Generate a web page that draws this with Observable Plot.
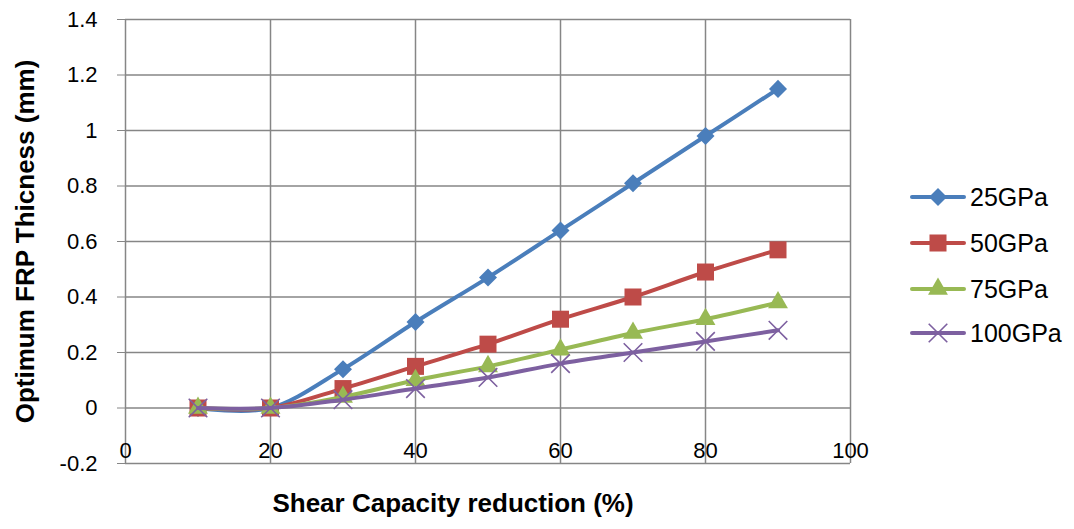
<!DOCTYPE html>
<html><head><meta charset="utf-8">
<script src="https://cdn.jsdelivr.net/npm/d3@7"></script>
<script src="https://cdn.jsdelivr.net/npm/@observablehq/plot@0.6"></script>
<style>
body{margin:0;background:#fff;font-family:"Liberation Sans",Arial,sans-serif;}
#wrap{position:relative;width:1074px;height:529px;}
#legend{position:absolute;left:910px;top:0;}
.item{position:absolute;left:0;height:30px;display:flex;align-items:center;white-space:nowrap;font-size:25px;color:#000;}
.item svg{margin-right:4px;}
</style></head><body><div id="wrap"><div id="chart"></div><div id="legend"></div></div>
<script>
const reduction = [10, 20, 30, 40, 50, 60, 70, 80, 90];
const series = ["25GPa", "50GPa", "75GPa", "100GPa"];
const t25 = [0, 0, 0.14, 0.31, 0.47, 0.64, 0.81, 0.98, 1.15];
const t50 = [0, 0, 0.07, 0.15, 0.23, 0.32, 0.40, 0.49, 0.57];
const t75 = [0, 0, 0.04, 0.10, 0.15, 0.21, 0.27, 0.32, 0.38];
const t100 = [0, 0, 0.03, 0.07, 0.11, 0.16, 0.20, 0.24, 0.28];
const xTicks = [0, 20, 40, 60, 80, 100];
const yTicks = [-0.2, 0, 0.2, 0.4, 0.6, 0.8, 1, 1.2, 1.4];
const colors = ["#4A7EBB", "#BE4B48", "#98B954", "#7D60A0"];

const values = [t25, t50, t75, t100];
const markerStyles = [
  {symbol: "square", rotate: 45, r: 7.2, filled: true},
  {symbol: "square", r: 9.6, filled: true},
  {symbol: "triangle", r: 7.4, filled: true},
  {symbol: "times", r: 8.5, filled: false}
];

const grid = {stroke: "#868686", strokeOpacity: 1, strokeWidth: 1.5};
const marks = [
  Plot.gridX(xTicks, grid),
  Plot.gridY(yTicks, grid),
  Plot.axisY(yTicks, {tickSize: 8, tickPadding: 20, stroke: "#868686", fill: "#000", fontSize: 22, tickFormat: d => String(d), label: null}),
  Plot.axisX(xTicks, {tickSize: 0, tickPadding: 0, dy: -21, fill: "#000", fontSize: 22, label: null}),
  Plot.text(["Optimum FRP Thicness (mm)"], {text: d => d, frameAnchor: "left", dx: -100, rotate: -90, textAnchor: "middle", fontWeight: "bold", fontSize: 26, fill: "#000"}),
  Plot.text(["Shear Capacity reduction (%)"], {text: d => d, frameAnchor: "bottom", dx: -35, dy: 48, textAnchor: "middle", fontWeight: "bold", fontSize: 26, fill: "#000"})
];

series.forEach((s, i) => {
  const rows = reduction.map((x, j) => ({series: s, x, y: values[i][j]}));
  marks.push(Plot.line(rows, {x: "x", y: "y", stroke: colors[i], strokeWidth: 4, curve: "cardinal"}));
  const m = markerStyles[i];
  const opts = {x: "x", y: "y", symbol: m.symbol, r: m.r};
  if (m.rotate) opts.rotate = m.rotate;
  if (m.filled) { opts.fill = colors[i]; opts.stroke = "none"; }
  else { opts.fill = "none"; opts.stroke = colors[i]; opts.strokeWidth = 1.6; }
  marks.push(Plot.dot(rows, opts));
});

const chart = Plot.plot({
  width: 1074,
  height: 529,
  marginLeft: 125,
  marginRight: 224,
  marginTop: 19,
  marginBottom: 66,
  style: {fontFamily: "'Liberation Sans', Arial, sans-serif", fontSize: "22px", background: "#fff", overflow: "visible"},
  x: {domain: [0, 100], nice: false},
  y: {domain: [-0.2, 1.4], nice: false},
  marks
});
document.getElementById("chart").appendChild(chart);

// Legend
const legend = document.getElementById("legend");
const rowCenters = [197, 243, 289, 333];
series.forEach((s, i) => {
  const m = markerStyles[i];
  const item = document.createElement("div");
  item.className = "item";
  item.style.top = (rowCenters[i] - 15) + "px";
  const sym = {square: d3.symbolSquare, triangle: d3.symbolTriangle, times: d3.symbolTimes}[m.symbol];
  const path = d3.symbol(sym, m.r * m.r * Math.PI)();
  const fill = m.filled ? colors[i] : "none";
  const stroke = m.filled ? "none" : colors[i];
  item.innerHTML = `<svg width="56" height="30"><line x1="2" x2="54" y1="15" y2="15" stroke="${colors[i]}" stroke-width="4" stroke-linecap="round"/><path d="${path}" transform="translate(28,15) rotate(${m.rotate || 0})" fill="${fill}" stroke="${stroke}" stroke-width="1.6"/></svg><span>${s}</span>`;
  legend.appendChild(item);
});
</script></body></html>
